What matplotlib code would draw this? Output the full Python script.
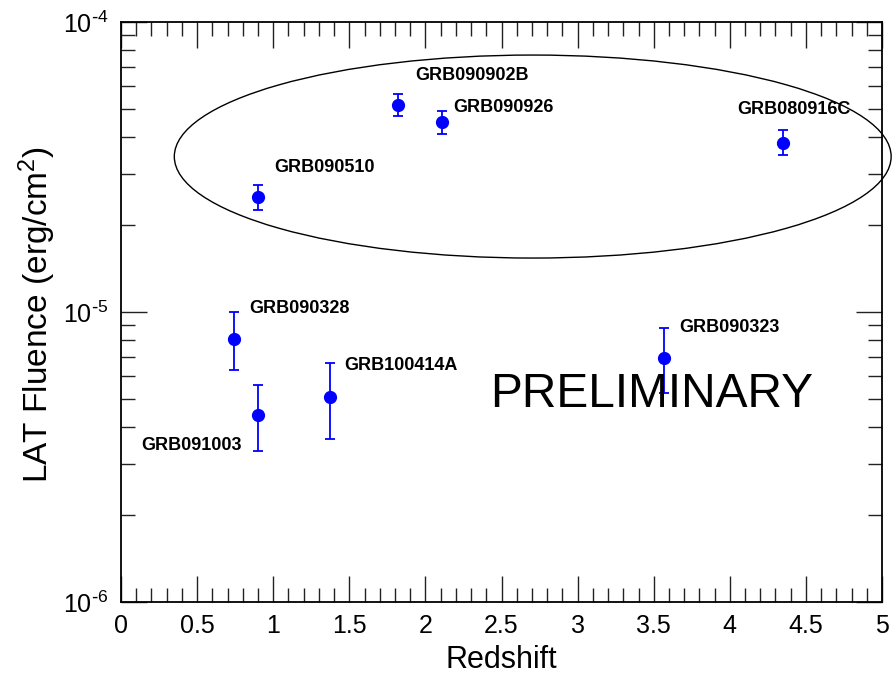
import matplotlib
matplotlib.use("Agg")
import matplotlib.pyplot as plt
from matplotlib.patches import Ellipse
from matplotlib.ticker import LogLocator, MultipleLocator, FixedFormatter

plt.rcParams['font.family'] = ['Liberation Sans', 'DejaVu Sans']
plt.rcParams['mathtext.default'] = 'regular'

# burst names, redshift, LAT fluence and asymmetric fluence errors
grb_names = ['GRB090510', 'GRB090902B', 'GRB090926', 'GRB080916C',
             'GRB090328', 'GRB091003', 'GRB100414A', 'GRB090323']
redshift = [0.90, 1.82, 2.11, 4.35, 0.74, 0.90, 1.37, 3.57]
fluence = [2.49e-5, 5.18e-5, 4.52e-5, 3.84e-5, 8.1e-6, 4.43e-6, 5.11e-6, 6.92e-6]
fluence_hi = [2.74e-5, 5.65e-5, 4.95e-5, 4.25e-5, 1.0e-5, 5.61e-6, 6.67e-6, 8.79e-6]
fluence_lo = [2.24e-5, 4.75e-5, 4.12e-5, 3.48e-5, 6.3e-6, 3.31e-6, 3.64e-6, 5.25e-6]

# label anchors (redshift, fluence) for each burst name
label_x = [1.005, 1.93, 2.18, 4.05, 0.84, 0.135, 1.465, 3.665]
label_y = [3.14e-5, 6.56e-5, 5.09e-5, 5.01e-5, 1.03e-5, 3.47e-6, 6.56e-6, 8.81e-6]

yticks = [1e-6, 1e-5, 1e-4]
ytick_labels = [r'$10^{\text{-}6}$', r'$10^{\text{-}5}$', r'$10^{\text{-}4}$']

fig = plt.figure(figsize=(8.92, 6.83), dpi=100)
ax = fig.add_axes([0.1357, 0.1186, 0.8531, 0.8492])

err_low = [f - l for f, l in zip(fluence, fluence_lo)]
err_high = [h - f for f, h in zip(fluence, fluence_hi)]
ax.errorbar(redshift, fluence, yerr=[err_low, err_high], fmt='o', color='#0000ff',
            ms=8.5, elinewidth=1.3, capsize=3.5, capthick=1.3, zorder=3)

for name, lx, ly in zip(grb_names, label_x, label_y):
    ax.text(lx, ly, name, fontsize=13, fontweight='bold', va='center', ha='left')

ax.text(0.485, 0.357, 'PRELIMINARY', transform=ax.transAxes, fontsize=34.5,
        va='center', ha='left')

# highlight the high-fluence group
ell = Ellipse((0.541, 0.768), 0.942, 0.35, transform=ax.transAxes,
              fill=False, edgecolor='black', lw=1.0, clip_on=False)
ax.add_patch(ell)

ax.set_xlim(0, 5)
ax.set_ylim(1e-6, 1e-4)
ax.set_yscale('log')
ax.xaxis.set_major_locator(MultipleLocator(0.5))
ax.xaxis.set_minor_locator(MultipleLocator(0.1))
ax.set_xticks([0, 0.5, 1, 1.5, 2, 2.5, 3, 3.5, 4, 4.5, 5])
ax.set_xticklabels(['0', '0.5', '1', '1.5', '2', '2.5', '3', '3.5', '4', '4.5', '5'])
ax.set_yticks(yticks)
ax.yaxis.set_major_formatter(FixedFormatter(ytick_labels))
ax.yaxis.set_minor_locator(LogLocator(base=10, subs=range(2, 10)))
ax.yaxis.set_minor_formatter(FixedFormatter([]))

ax.tick_params(which='both', direction='in', top=True, right=True, width=1.0, color='#222222')
ax.tick_params(which='major', length=19, labelsize=18, pad=9)
ax.tick_params(which='minor', length=10)
for s in ax.spines.values():
    s.set_linewidth(1.3)

ax.set_xlabel('Redshift', fontsize=22)
ax.set_ylabel('LAT Fluence (erg/cm$^{2}$)', fontsize=24)
ax.xaxis.set_label_coords(0.5, -0.075)
ax.yaxis.set_label_coords(-0.083, 0.495)

fig.savefig('out.png', dpi=100)
